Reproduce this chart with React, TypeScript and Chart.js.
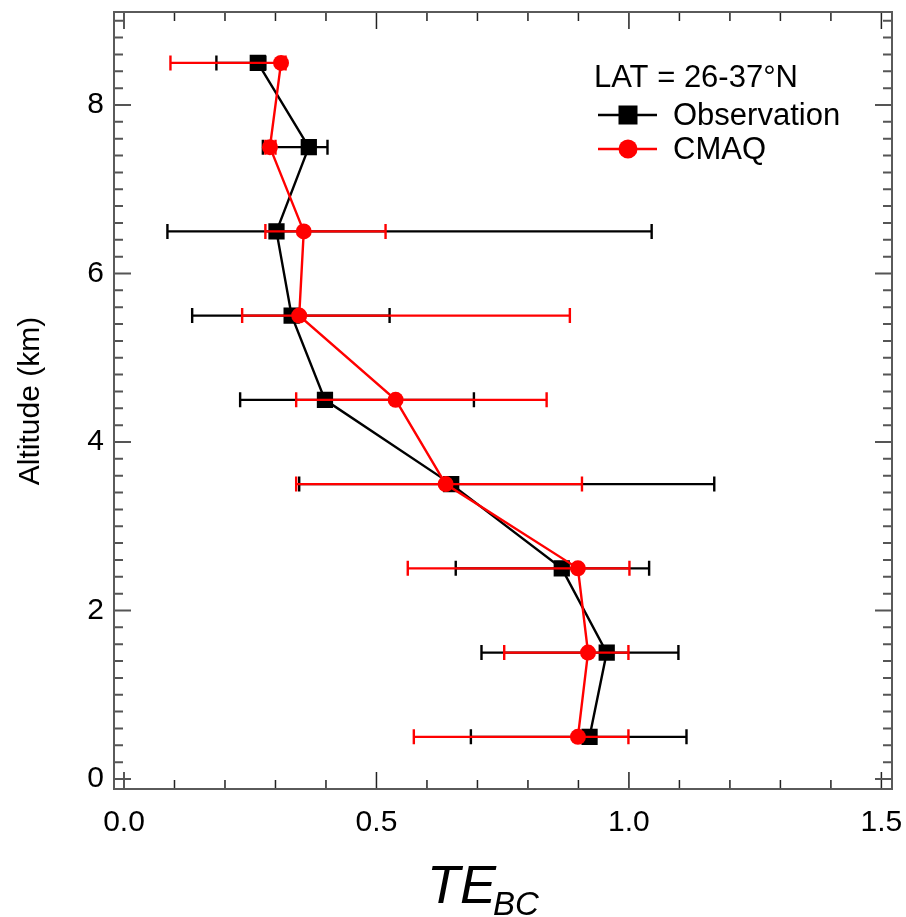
import React, { useEffect, useRef } from "react";
import { Chart, registerables } from "chart.js";

Chart.register(...registerables);

// ---- data ----
const altitudes = [0.5, 1.5, 2.5, 3.5, 4.5, 5.5, 6.5, 7.5, 8.5];
const obsValues = [0.922, 0.956, 0.867, 0.648, 0.398, 0.332, 0.302, 0.366, 0.265];
const obsLow = [0.687, 0.708, 0.657, 0.347, 0.23, 0.135, 0.086, 0.275, 0.183];
const obsHigh = [1.114, 1.098, 1.04, 1.169, 0.693, 0.526, 1.045, 0.403, 0.28];
const cmaqValues = [0.899, 0.919, 0.899, 0.637, 0.538, 0.347, 0.356, 0.289, 0.311];
const cmaqLow = [0.574, 0.753, 0.562, 0.341, 0.341, 0.234, 0.28, 0.28, 0.092];
const cmaqHigh = [0.999, 0.999, 1.001, 0.907, 0.837, 0.883, 0.518, 0.3, 0.32];
const xTickValues = [0, 0.5, 1.0, 1.5];
const yTickValues = [0, 2, 4, 6, 8];
const legendTitle = "LAT = 26-37°N";
const seriesNames = ["Observation", "CMAQ"];
const yTitle = "Altitude (km)";
const xTitleMain = "TE";
const xTitleSub = "BC";

const FONT = '"Liberation Sans", Arial, Helvetica, sans-serif';

export default function App() {
  const ref = useRef<HTMLCanvasElement>(null);

  useEffect(() => {
    const canvas = ref.current!;
    const errors = [
      { low: obsLow, high: obsHigh, color: "#000000" },
      { low: cmaqLow, high: cmaqHigh, color: "#ff0000" },
    ];

    const errorBarPlugin = {
      id: "errorBars",
      beforeDatasetDraw(chart: any, args: any) {
        const e = errors[args.index];
        if (!e) return;
        const xs = chart.scales.x;
        const ys = chart.scales.y;
        const ctx = chart.ctx;
        ctx.save();
        ctx.strokeStyle = e.color;
        ctx.lineWidth = 2.4;
        const cap = 7.5;
        altitudes.forEach((a, i) => {
          const y = ys.getPixelForValue(a);
          const x1 = xs.getPixelForValue(e.low[i]);
          const x2 = xs.getPixelForValue(e.high[i]);
          ctx.beginPath();
          ctx.moveTo(x1, y);
          ctx.lineTo(x2, y);
          ctx.moveTo(x1, y - cap);
          ctx.lineTo(x1, y + cap);
          ctx.moveTo(x2, y - cap);
          ctx.lineTo(x2, y + cap);
          ctx.stroke();
        });
        ctx.restore();
      },
    };

    const framePlugin = {
      id: "frameTicks",
      afterDraw(chart: any) {
        const { ctx, chartArea } = chart;
        const { left, right, top, bottom } = chartArea;
        const xs = chart.scales.x;
        const ys = chart.scales.y;
        ctx.save();
        // ticks x (bottom & top)
        ctx.strokeStyle = "#222222";
        ctx.lineWidth = 1.5;
        for (let i = 0; i <= 15; i++) {
          const v = i / 10;
          const px = xs.getPixelForValue(v);
          const len = i % 5 === 0 ? 17 : 9;
          ctx.beginPath();
          ctx.moveTo(px, bottom);
          ctx.lineTo(px, bottom - len);
          ctx.moveTo(px, top);
          ctx.lineTo(px, top + len);
          ctx.stroke();
        }
        // ticks y (left & right)
        ctx.strokeStyle = "#555555";
        ctx.lineWidth = 2;
        for (let i = 0; i <= 45; i++) {
          const v = i / 5;
          const py = ys.getPixelForValue(v);
          if (py < top) continue;
          const len = i % 10 === 0 ? 17 : 9;
          ctx.beginPath();
          ctx.moveTo(left, py);
          ctx.lineTo(left + len, py);
          ctx.moveTo(right, py);
          ctx.lineTo(right - len, py);
          ctx.stroke();
        }
        // frame
        ctx.strokeStyle = "#5a5a5a";
        ctx.lineWidth = 2;
        ctx.strokeRect(left, top, right - left, bottom - top);

        // legend
        ctx.fillStyle = "#000";
        ctx.textBaseline = "alphabetic";
        ctx.textAlign = "left";
        ctx.font = `31px ${FONT}`;
        ctx.fillText(legendTitle, 594, 87);
        const rows = [
          { y: 115, color: "#000000", shape: "rect" },
          { y: 149, color: "#ff0000", shape: "circle" },
        ];
        rows.forEach((r, i) => {
          ctx.strokeStyle = r.color;
          ctx.fillStyle = r.color;
          ctx.lineWidth = 2.4;
          ctx.beginPath();
          ctx.moveTo(598, r.y);
          ctx.lineTo(657, r.y);
          ctx.stroke();
          if (r.shape === "rect") {
            ctx.fillRect(628 - 9.5, r.y - 9.5, 19, 19);
          } else {
            ctx.beginPath();
            ctx.arc(628, r.y, 9.5, 0, Math.PI * 2);
            ctx.fill();
          }
          ctx.fillStyle = "#000";
          ctx.fillText(seriesNames[i], 673, r.y + 10);
        });

        // y title
        ctx.save();
        ctx.translate(31, 401);
        ctx.rotate(-Math.PI / 2);
        ctx.textAlign = "center";
        ctx.textBaseline = "middle";
        ctx.font = `30px ${FONT}`;
        ctx.fillStyle = "#000";
        ctx.fillText(yTitle, 0, 0);
        ctx.restore();

        // x title
        ctx.fillStyle = "#000";
        ctx.textAlign = "left";
        ctx.textBaseline = "alphabetic";
        ctx.font = `italic 54px ${FONT}`;
        const tx = 427;
        ctx.fillText(xTitleMain, tx, 903);
        const w = ctx.measureText(xTitleMain).width;
        ctx.font = `italic 33px ${FONT}`;
        ctx.fillText(xTitleSub, tx + w - 3, 915);
        ctx.restore();
      },
    };

    const zeroPad = (s: any) => {
      s.paddingTop = 0;
      s.paddingBottom = 0;
      s.paddingLeft = 0;
      s.paddingRight = 0;
    };

    const chart = new Chart(canvas, {
      type: "scatter",
      data: {
        datasets: [
          {
            label: seriesNames[0],
            data: altitudes.map((a, i) => ({ x: obsValues[i], y: a })),
            showLine: true,
            borderColor: "#000000",
            backgroundColor: "#000000",
            borderWidth: 2.4,
            pointStyle: "rect",
            pointRadius: 11.5,
            pointBorderWidth: 0,
            order: 1,
          },
          {
            label: seriesNames[1],
            data: altitudes.map((a, i) => ({ x: cmaqValues[i], y: a })),
            showLine: true,
            borderColor: "#ff0000",
            backgroundColor: "#ff0000",
            borderWidth: 2.4,
            pointStyle: "circle",
            pointRadius: 8,
            pointBorderWidth: 0,
            order: 0,
          },
        ],
      },
      options: {
        responsive: false,
        animation: false,
        events: [],
        layout: { padding: { left: 0, top: 12, right: 14, bottom: 0 } },
        plugins: {
          legend: { display: false },
          tooltip: { enabled: false },
        },
        scales: {
          x: {
            type: "linear",
            min: -0.0198,
            max: 1.521,
            grid: { display: false, drawTicks: false },
            border: { display: false },
            afterBuildTicks: (s: any) => {
              s.ticks = xTickValues.map((v) => ({ value: v }));
            },
            afterFit: (s: any) => {
              s.height = 128;
              zeroPad(s);
            },
            ticks: {
              color: "#000",
              font: { family: FONT, size: 30 },
              padding: 16,
              maxRotation: 0,
              callback: (v: any) => Number(v).toFixed(1),
            },
          },
          y: {
            type: "linear",
            min: -0.119,
            max: 9.104,
            grid: { display: false, drawTicks: false },
            border: { display: false },
            afterBuildTicks: (s: any) => {
              s.ticks = yTickValues.map((v) => ({ value: v }));
            },
            afterFit: (s: any) => {
              s.width = 114;
              zeroPad(s);
            },
            ticks: {
              color: "#000",
              font: { family: FONT, size: 30 },
              padding: 10,
              callback: (v: any) => String(v),
            },
          },
        },
      },
      plugins: [errorBarPlugin, framePlugin],
    } as any);

    return () => chart.destroy();
  }, []);

  return (
    <div style={{ position: "fixed", left: 0, top: 0, width: 906, height: 917, background: "#fff" }}>
      <canvas ref={ref} width={906} height={917} style={{ display: "block", width: 906, height: 917 }} />
    </div>
  );
}
